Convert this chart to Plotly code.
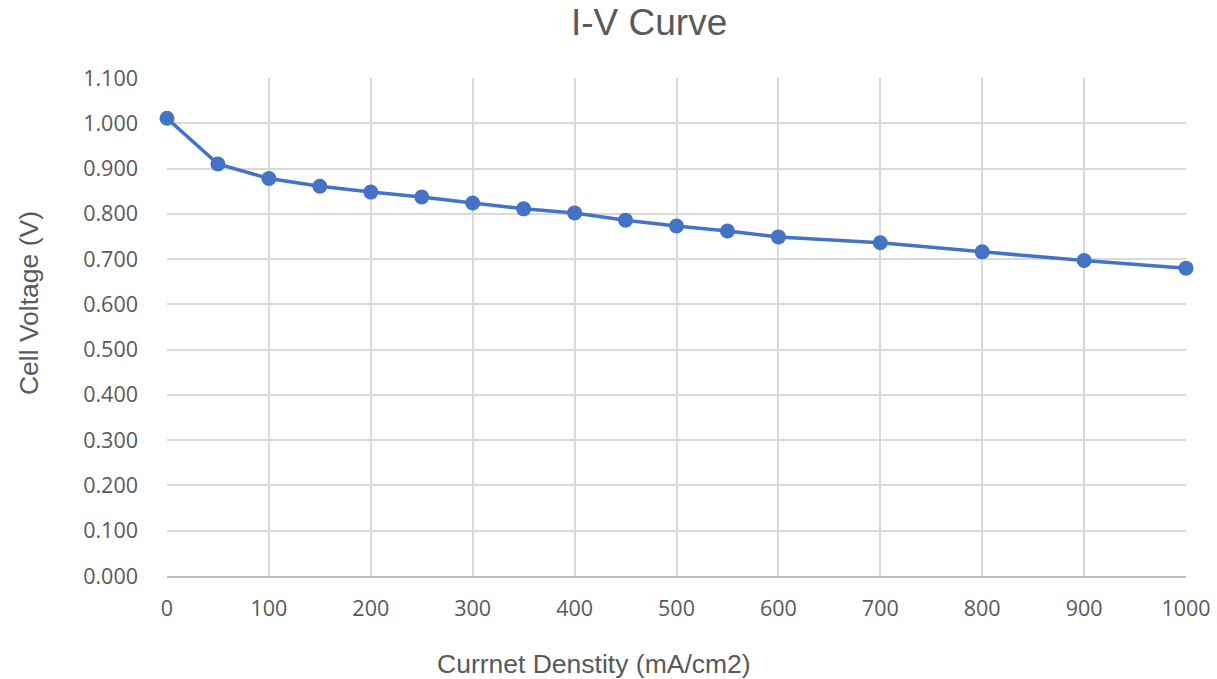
import plotly.graph_objects as go

current_density = [0, 50, 100, 150, 200, 250, 300, 350, 400, 450, 500, 550, 600, 700, 800, 900, 1000]
cell_voltage = [1.011, 0.910, 0.878, 0.861, 0.848, 0.837, 0.824, 0.811, 0.802, 0.786, 0.773, 0.762, 0.749, 0.736, 0.716, 0.697, 0.680]

fig = go.Figure()
fig.add_trace(go.Scatter(
    x=current_density, y=cell_voltage, mode="lines+markers",
    line=dict(color="#4472C4", width=3.5),
    marker=dict(color="#4472C4", size=15),
    showlegend=False, cliponaxis=False,
))

tick_font = dict(family="Open Sans, Noto Sans, sans-serif", size=21.5, color="#595959")
label_font = dict(family="Liberation Sans, Arial, sans-serif", size=26.5, color="#595959")
fig.update_layout(
    width=1217, height=679,
    paper_bgcolor="white", plot_bgcolor="white",
    margin=dict(l=167, r=31, t=78, b=103),
    annotations=[
        dict(text="I-V Curve", xref="paper", yref="paper", x=0.473, y=1.1124,
             xanchor="center", yanchor="middle", showarrow=False,
             font=dict(family="Liberation Sans, Arial, sans-serif", size=37, color="#595959")),
        dict(text="Currnet Denstity (mA/cm2)", xref="paper", yref="paper", x=0.419, y=-0.1767,
             xanchor="center", yanchor="middle", showarrow=False, font=label_font),
        dict(text="Cell Voltage (V)", xref="paper", yref="paper", x=-0.1354, y=0.548,
             xanchor="center", yanchor="middle", showarrow=False, textangle=-90, font=label_font),
    ],
)
fig.update_xaxes(
    range=[0, 1000], dtick=100, tick0=0, automargin=False,
    showgrid=True, gridcolor="#D9D9D9", gridwidth=2,
    showline=True, linecolor="#BFBFBF", linewidth=2,
    zeroline=False, ticks="", tickfont=tick_font, ticklabelstandoff=12,
)
fig.update_yaxes(
    range=[0, 1.1], dtick=0.1, tick0=0, tickformat=".3f", automargin=False,
    showgrid=True, gridcolor="#D9D9D9", gridwidth=2,
    showline=False, zeroline=False, ticks="", tickfont=tick_font, ticklabelstandoff=28,
)

fig.write_html("out.html")
